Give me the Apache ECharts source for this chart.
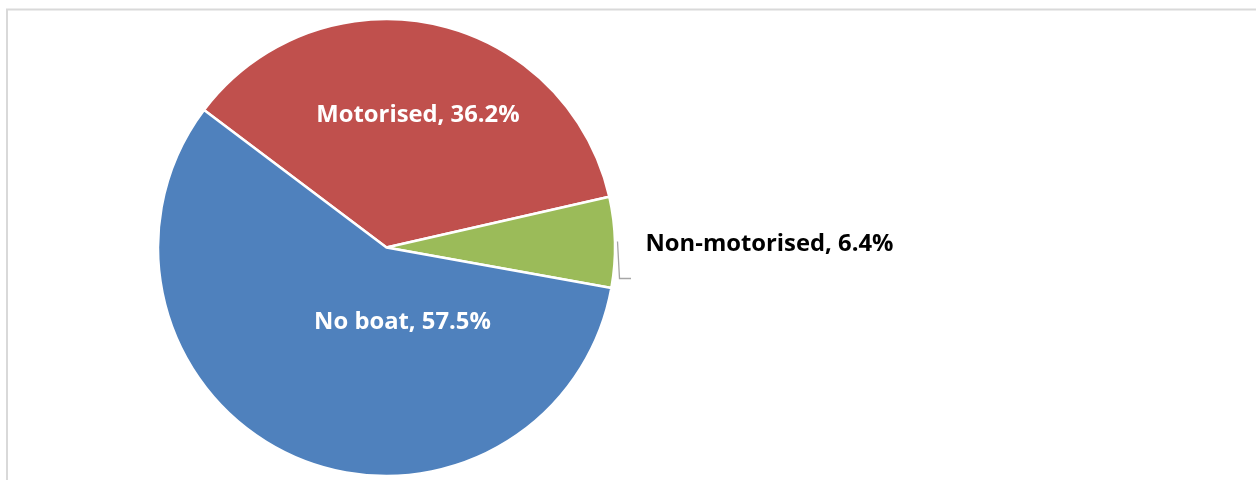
<!DOCTYPE html>
<html>
<head>
<meta charset="utf-8">
<script src="https://cdn.jsdelivr.net/npm/echarts@6/dist/echarts.min.js"></script>
<style>
  html, body { margin: 0; padding: 0; background: #ffffff; }
  #chart { width: 1256px; height: 480px; }
</style>
</head>
<body>
<div id="chart"></div>
<script>
// Boat ownership shares (%)
const categories = ['Motorised', 'Non-motorised', 'No boat'];
const shares = [36.2, 6.4, 57.5];
const colors = ['#c0504d', '#9bbb59', '#4f81bd'];

// Pie geometry (px)
const CX = 386.5, CY = 247.5, R = 228.5;

// Label anchor offsets from the pie centre (px)
const labelOffsets = [
  { dx: 31.5, dy: -132, align: 'center' },
  { dx: 259, dy: -3, align: 'left' },
  { dx: 16, dy: 74.5, align: 'center' }
];

const chart = echarts.init(document.getElementById('chart'), null, { renderer: 'canvas' });

const data = categories.map((name, i) => {
  const outside = i === 1;
  return {
    name: name,
    value: shares[i],
    itemStyle: { color: colors[i] },
    label: {
      color: outside ? '#000000' : '#ffffff'
    },
    labelLine: { show: outside }
  };
});

chart.setOption({
  backgroundColor: '#ffffff',
  animation: false,
  graphic: [{
    type: 'rect',
    shape: { x: 7, y: 9.5, width: 1300, height: 520 },
    style: { fill: 'none', stroke: '#d9d9d9', lineWidth: 2 },
    silent: true,
    z: 0
  }],
  series: [{
    type: 'pie',
    center: [CX, CY],
    radius: [0, R],
    startAngle: 143,
    clockwise: true,
    avoidLabelOverlap: false,
    data: data,
    itemStyle: { borderColor: '#ffffff', borderWidth: 2.5 },
    label: {
      show: true,
      position: 'outside',
      formatter: p => p.name + ', ' + p.value.toFixed(1) + '%',
      fontFamily: 'Open Sans',
      fontWeight: 'bold',
      fontSize: 23.8
    },
    labelLine: {
      show: false,
      lineStyle: { color: '#a6a6a6', width: 1.3 }
    },
    labelLayout: function (params) {
      const o = labelOffsets[params.dataIndex];
      const res = {
        x: CX + o.dx,
        y: CY + o.dy,
        align: o.align,
        verticalAlign: 'middle'
      };
      if (params.dataIndex === 1) {
        res.labelLinePoints = [
          [CX + R + 2.5, CY - 6],
          [CX + R + 4.5, CY + 31],
          [CX + R + 16, CY + 31]
        ];
      }
      return res;
    }
  }]
});
</script>
</body>
</html>
